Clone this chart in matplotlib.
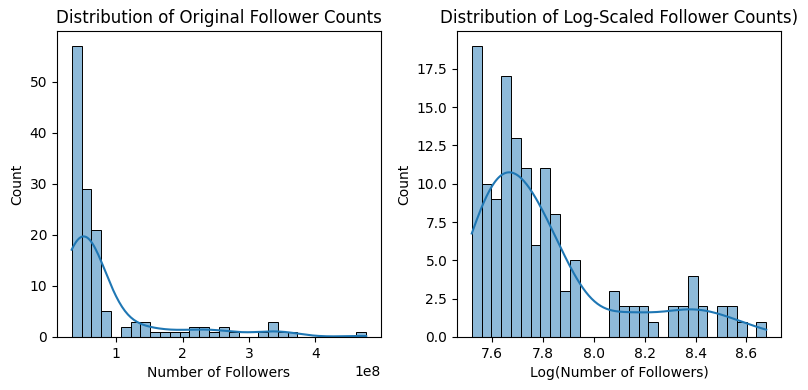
"""Histograms of follower counts, raw and log-scaled, with KDE overlays."""

import matplotlib

matplotlib.use("Agg")
import matplotlib.pyplot as plt
import numpy as np
import seaborn as sns

# Raw follower counts: 30 equal bins between these limits (in followers)
raw_lo, raw_hi = 0.331e8, 4.765e8
raw_counts = [57, 29, 21, 5, 0, 2, 3, 3, 1, 1,
              1, 1, 2, 2, 1, 2, 1, 0, 0, 1,
              3, 1, 1, 0, 0, 0, 0, 0, 0, 1]

# log10 of follower counts: 30 equal bins between these limits
log_lo, log_hi = 7.521, 8.678
log_counts = [19, 10, 9, 17, 13, 11, 6, 11, 8, 3,
              5, 0, 0, 0, 3, 2, 2, 2, 1, 0,
              2, 2, 4, 2, 0, 2, 2, 1, 0, 1]


def _samples(lo, hi, counts):
    """Expand per-bin counts into one value per account at the bin centre."""
    edges = np.linspace(lo, hi, len(counts) + 1)
    centers = (edges[:-1] + edges[1:]) / 2
    return np.repeat(centers, counts), edges


raw_values, raw_edges = _samples(raw_lo, raw_hi, raw_counts)
log_values, log_edges = _samples(log_lo, log_hi, log_counts)

fig, axes = plt.subplots(1, 2, figsize=(8.08, 3.9), dpi=100)
fig.subplots_adjust(left=0.0705, right=0.9666, bottom=0.136, top=0.92, wspace=0.235)

sns.histplot(raw_values, bins=raw_edges, kde=True, ax=axes[0],
             kde_kws={"cut": 3, "clip": (raw_lo, raw_hi)})
axes[0].set_title("Distribution of Original Follower Counts")
axes[0].set_xlabel("Number of Followers")
axes[0].set_ylabel("Count")

sns.histplot(log_values, bins=log_edges, kde=True, ax=axes[1],
             kde_kws={"cut": 3, "clip": (log_lo, log_hi)})
axes[1].set_title("Distribution of Log-Scaled Follower Counts)")
axes[1].set_xlabel("Log(Number of Followers)")
axes[1].set_ylabel("Count")

fig.savefig("out.png", dpi=100)
plt.close(fig)
